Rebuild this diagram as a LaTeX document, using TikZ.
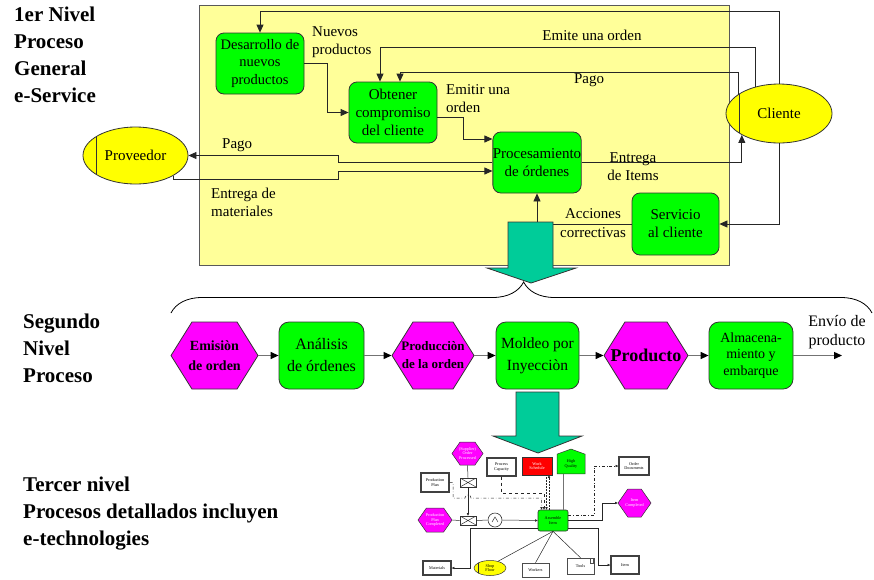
\documentclass[tikz,border=0pt]{standalone}
\usepackage{fontspec}
\setmainfont{Liberation Serif}
\usetikzlibrary{arrows.meta,shapes.geometric,shapes.symbols,decorations.pathreplacing,calc}

\definecolor{fnGreen}{HTML}{00FF00}
\definecolor{evMagenta}{HTML}{FF00FF}
\definecolor{paleYellow}{HTML}{FFFF99}
\definecolor{orgYellow}{HTML}{FFFF00}
\definecolor{flowTeal}{HTML}{00CC99}
\definecolor{edgeGray}{HTML}{333333}
\definecolor{workRed}{HTML}{FF0000}

\newcommand{\fsz}[2]{\fontsize{#1}{#2}\selectfont}

\tikzset{
  func/.style={draw=edgeGray, fill=fnGreen, line width=0.8pt, rounded corners=8pt,
    inner sep=0pt, align=center, minimum width=88pt, minimum height=61pt,
    font=\fsz{15}{18}},
  orgunit/.style={ellipse, draw=edgeGray, fill=orgYellow, line width=0.8pt, inner sep=0pt,
    path picture={\draw[edgeGray, line width=0.8pt]
      ($(path picture bounding box.south west)!0.125!(path picture bounding box.south east)$) --
      ($(path picture bounding box.north west)!0.125!(path picture bounding box.north east)$);}},
  flow/.style={draw=black!85, line width=0.8pt, -{Triangle[length=8pt,width=7pt]}},
  lbl/.style={inner sep=0pt, font=\fsz{15}{18.5}},
  lvltitle/.style={inner sep=0pt, anchor=north west, align=left, font=\bfseries\fsz{21}{27}},
  evt/.style={signal, signal to=east and west, signal pointer angle=116, draw=edgeGray,
    fill=evMagenta, line width=0.8pt, inner ysep=0pt, inner xsep=-16pt, align=center,
    minimum width=87pt, minimum height=67pt},
  fn2/.style={draw=edgeGray, fill=fnGreen, line width=0.8pt, rounded corners=10pt,
    inner sep=0pt, align=center, minimum width=85pt, minimum height=67pt},
  chain2/.style={draw=black!55, line width=1.3pt, -{Triangle[length=8pt,width=7pt,color=black]}},
  bigarrow/.style={draw=edgeGray, fill=flowTeal, line width=0.8pt},
  % detailed level: small symbols
  small3/.style={inner sep=0pt, align=center, font=\fsz{4.2}{4.8}},
  sfn/.style={small3, draw=edgeGray, fill=fnGreen, line width=0.6pt, rounded corners=2pt},
  sevt/.style={small3, signal, signal to=east and west, signal pointer angle=110,
    inner xsep=-4pt, draw=edgeGray, fill=evMagenta, text=white, line width=0.5pt},
  sinfo/.style={small3, draw=black!75, fill=white, line width=1.4pt},
  sres/.style={small3, draw=black!70, fill=white, line width=0.5pt},
  envelope/.style={draw=black!80, fill=white, line width=0.6pt, minimum width=16pt,
    minimum height=9pt, inner sep=0pt,
    path picture={\draw[black!80, line width=0.5pt]
      (path picture bounding box.south west) -- (path picture bounding box.north east)
      (path picture bounding box.north west) -- (path picture bounding box.south east);}},
  orgate/.style={circle, draw=black!80, fill=white, line width=0.6pt, minimum size=14pt,
    inner sep=0pt,
    path picture={\draw[black!80, line width=0.5pt]
      ($(path picture bounding box.center)+(-3pt,-2pt)$) --
      ($(path picture bounding box.center)+(0pt,3pt)$) --
      ($(path picture bounding box.center)+(3pt,-2pt)$);}},
  sflow/.style={draw=black!85, line width=0.5pt, -{Triangle[length=2.6pt,width=2.3pt]}},
  sline/.style={draw=black!85, line width=0.5pt},
}

\begin{document}
\begin{tikzpicture}[x=1pt, y=-1pt]
\useasboundingbox (0,0) rectangle (874,579);

% ---------- level titles ----------
\node[lvltitle] (t1) at (14,7) {1er Nivel\\Proceso\\General\\e-Service};
\node[lvltitle] (t2) at (23,314) {Segundo\\Nivel\\Proceso};
\node[lvltitle] (t3) at (23,477) {Tercer nivel\\Procesos detallados incluyen\\e-technologies};

% ---------- level 1: e-service frame ----------
\filldraw[fill=paleYellow, draw=black!65, line width=1pt] (199,5) rectangle (729,265);

\node[func, font=\fsz{14.5}{17.5}] (des) at (260,63.5) {Desarrollo de\\nuevos\\productos};
\node[func] (obt) at (393,112.5) {Obtener\\compromiso\\del cliente};
\node[func] (proc) at (537,162.5) {Procesamiento\\de órdenes};
\node[func, minimum width=87pt, minimum height=62pt] (serv) at (675.5,224) {Servicio\\al cliente};
\node[orgunit, minimum width=106pt, minimum height=59pt, font=\fsz{15}{18}] (cli) at (779,113.5) {Cliente};
\node[orgunit, minimum width=105pt, minimum height=57pt, font=\fsz{15}{18}] (prov) at (135.5,155.5) {Proveedor};

\draw[flow] (cli.north) -- (779,11) -| (des.north);
\draw[flow] (cli.south) |- (serv.east);
\draw[flow] (cli.132) |- (380,47) -- ([xshift=-13pt]obt.north);
\draw[flow] (cli.155) |- (400,72) -- ([xshift=7pt]obt.north);
\draw[flow] (des.east) -- (327,63.5) |- (obt.west);
\draw[flow] ([yshift=-4.5pt]obt.east) -| (463,139) -- ([yshift=23.5pt]proc.west);
\draw[flow] (proc.east) -| (cli.210);
\draw[flow] (serv.west) -| (proc.south);
\draw[flow] (proc.west) -- (338,162.5) |- (prov.east);
\draw[flow] (prov.-28) |- (338,179) |- ([yshift=-8.5pt]proc.west);

\node[lbl, anchor=west, align=left] (lnp) at (312,42) {Nuevos\\productos};
\node[lbl] (leo) at (592,35) {Emite una orden};
\node[lbl] (lpc) at (589,80) {Pago};
\node[lbl, anchor=west, align=left] (leu) at (446,98.5) {Emitir una\\orden};
\node[lbl, align=center] (lei) at (633,166.5) {Entrega\\de Items};
\node[lbl, align=center] (lac) at (593,223) {Acciones\\correctivas};
\node[lbl, anchor=west] (lpp) at (222,145) {Pago};
\node[lbl, anchor=west, align=left] (lem) at (211,202.5) {Entrega de\\materiales};

% broad arrow down to level 2
\filldraw[bigarrow] (508,222) -- (553,222) -- (553,268) -- (576,268) -- (531,283)
  -- (487,268) -- (508,268) -- cycle;

% ---------- level 2: process chain ----------
\draw[decorate, decoration={brace, amplitude=31pt, aspect=0.503}, line width=0.8pt]
  (171,313) -- (872,313);

\node[evt, font=\bfseries\fsz{14}{20}] (e1) at (214.5,355.5) {Emisiòn\\de orden};
\node[fn2, font=\fsz{16}{22}] (f1) at (321.5,355.5) {Análisis\\de órdenes};
\node[evt, minimum width=82pt, font=\bfseries\fsz{13}{18}] (e2) at (433,355.5) {Producciòn\\de la orden};
\node[fn2, minimum width=83pt, font=\fsz{15.5}{22}] (f2) at (537.5,355.5) {Moldeo por\\Inyecciòn};
\node[evt, minimum width=84pt, font=\bfseries\fsz{18}{20}] (e3) at (646,355.5) {Producto};
\node[fn2, minimum width=84pt, font=\fsz{14}{16.5}] (f3) at (751,355.5) {Almacena-\\miento y\\embarque};
\node[lbl, align=center, font=\fsz{16}{19}] (envio) at (837,332) {Envío de\\producto};
\coordinate (shipEnd) at (842,355.5);

\draw[chain2] (e1.east) -- (f1.west);
\draw[chain2] (f1.east) -- (e2.west);
\draw[chain2] (e2.east) -- (f2.west);
\draw[chain2] (f2.east) -- (e3.west);
\draw[chain2] (e3.east) -- (f3.west);
\draw[chain2] (f3.east) -- (shipEnd);

% broad arrow down to level 3
\filldraw[bigarrow] (516,392) -- (559,392) -- (559,436) -- (582,436) -- (538,453)
  -- (493,436) -- (516,436) -- cycle;

% ---------- level 3: detailed process ----------
\node[sevt, minimum width=31pt, minimum height=23pt] (sup) at (467.5,453.5) {(Supplier)\\Order\\Processed};
\node[sinfo, minimum width=28pt, minimum height=19pt] (pplan) at (435,482.5) {Production\\Plan};
\node[envelope] (env1) at (468,482.5) {};
\node[sinfo, minimum width=29pt, minimum height=18pt] (pcap) at (501.5,467) {Process\\Capacity};
\node[small3, draw=black!80, fill=workRed, text=white, line width=0.6pt,
  minimum width=30pt, minimum height=18pt] (wsch) at (537,466) {Work\\Schedule};
\node[small3, signal, signal to=north, signal from=nowhere, signal pointer angle=140,
  draw=edgeGray, fill=fnGreen, line width=0.5pt, minimum width=28pt, minimum height=22pt]
  (hq) at (571,464) {High\\Quality};
\node[sinfo, minimum width=30pt, minimum height=18pt] (odoc) at (634,466) {Order\\Documents};
\node[sevt, minimum width=33pt, minimum height=28pt] (icomp) at (634.5,503) {Item\\Completed};
\node[sevt, minimum width=34pt, minimum height=24pt] (ppc) at (435,520) {Production\\Plan\\Completed};
\node[envelope] (env2) at (468,520.5) {};
\node[orgate] (orc) at (495,520) {};
\node[sfn, minimum width=30pt, minimum height=21pt] (asm) at (553,520.5) {Assemble\\Item};
\node[sinfo, minimum width=28pt, minimum height=14pt] (mat) at (437,568) {Materials};
\node[orgunit, small3, line width=0.5pt, minimum width=32pt, minimum height=15pt] (shop) at (490,568) {Shop\\Floor};
\node[sres, minimum width=27pt, minimum height=14pt] (work) at (535.5,570) {Workers};
\node[sres, minimum width=27pt, minimum height=16pt,
  path picture={\draw[black!70, line width=0.4pt]
    ([xshift=-3.5pt,yshift=-0.6pt]path picture bounding box.north east) rectangle
    ([xshift=-0.6pt,yshift=-5pt]path picture bounding box.north east);}]
  (tools) at (580.5,566) {Tools};
\node[sinfo, minimum width=28pt, minimum height=18pt] (item) at (625,565) {Item};

% control flow
\draw[sline] (sup.south) -- (env1.north);
\draw[sflow] (env1.south) -- (env2.north);
\draw[sline] (ppc.east) -- (env2.west);
\draw[sline] (env2.east) -- (orc.west);
\draw[sflow] (orc.east) -- (asm.west);

% inputs into the function
\draw[sflow, dash dot] (pplan.east) -- (453,482.5) -- (453,498) -- (465,498)
  .. controls (465,494) and (471,494) .. (471,498) -- (541.5,498) -- ([xshift=-11.5pt]asm.north);
\draw[sflow, dashed] (pcap.south) -- (501.5,493) -- (544,493) -- ([xshift=-9pt]asm.north);
\draw[sflow, densely dotted] ([xshift=9.5pt]wsch.south) -- ([xshift=-6.5pt]asm.north);
\draw[sflow, densely dotted] ([xshift=-4pt]asm.north) -- ([xshift=12pt]wsch.south);
\draw[sline, black!55, line width=0.8pt] ([xshift=-8pt]hq.south) -- ([xshift=10pt]asm.north);

% outputs
\draw[sflow, dash dot] ([yshift=5.5pt]asm.east) -- (594,515) |- (odoc.west);
\draw[sflow] (asm.east) -- (602,520.5) |- (icomp.west);
\draw[sflow] ([yshift=-7.5pt]asm.west) -- (470,528) |- (mat.east);
\draw[sflow] ([yshift=-7.5pt]asm.east) -- (598,528) |- (item.west);

% resources
\draw[sline] (asm.south) -- (shop.40);
\draw[sline] (asm.south) -- (work.north);
\draw[sline] (asm.south) -- (tools.north);

\end{tikzpicture}
\end{document}
